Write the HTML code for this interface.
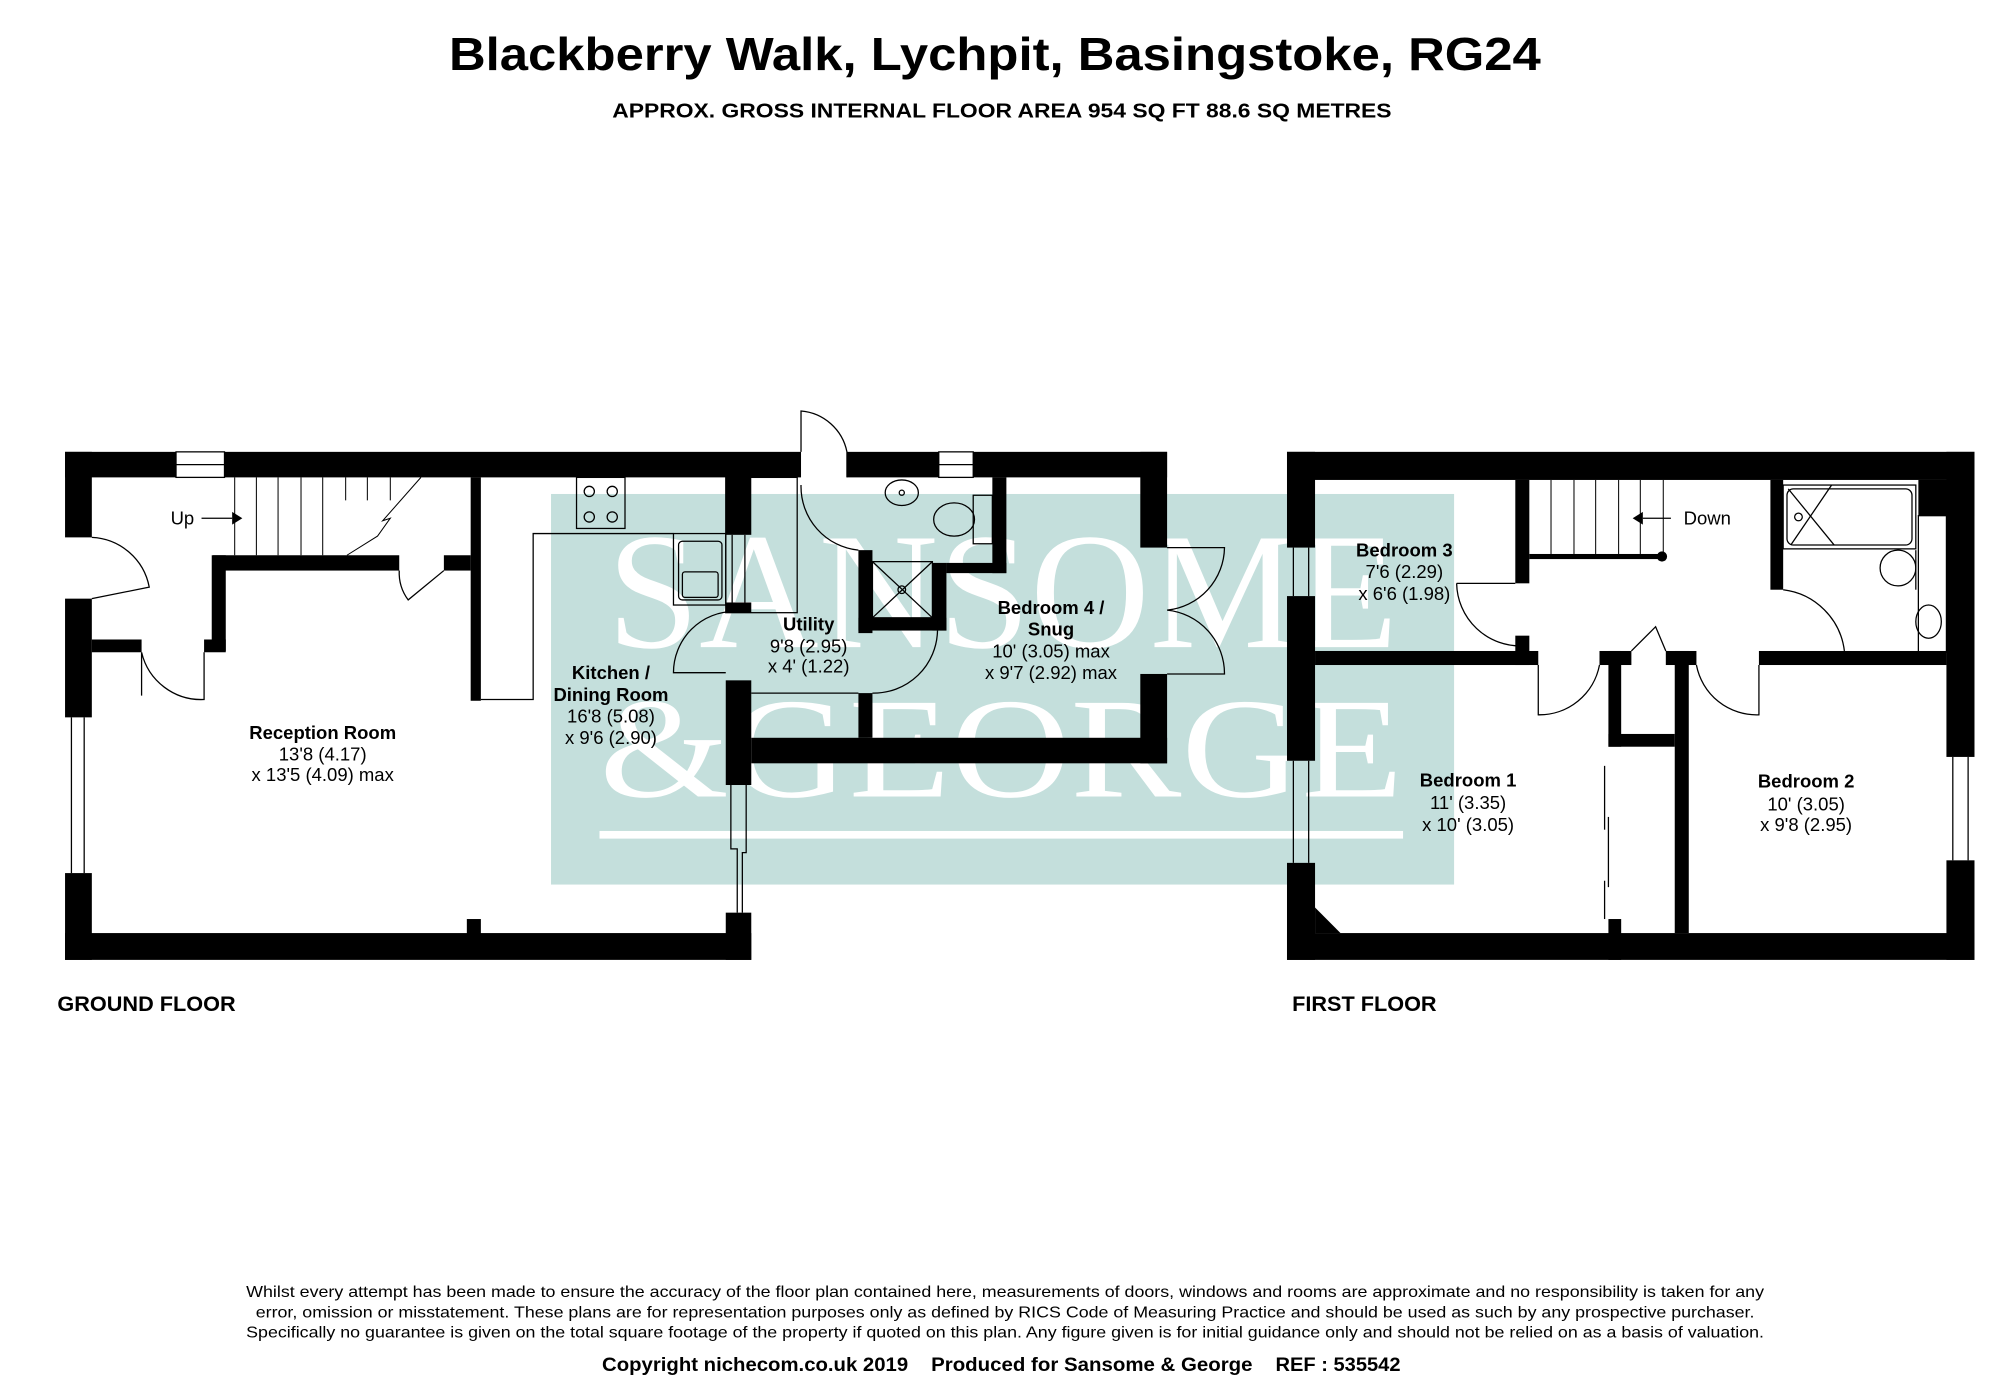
<!DOCTYPE html>
<html><head><meta charset="utf-8"><style>html,body{margin:0;padding:0;background:#fff}svg{display:block}</style></head>
<body>
<svg xmlns="http://www.w3.org/2000/svg" width="2000" height="1376" viewBox="0 0 1568 1078" preserveAspectRatio="none" font-family="'Liberation Sans', Arial, sans-serif">
<rect width="1568" height="1078" fill="#fff"/>
<text x="352" y="55" font-size="36" font-weight="bold" textLength="856" lengthAdjust="spacingAndGlyphs">Blackberry Walk, Lychpit, Basingstoke, RG24</text>
<text x="480" y="92" font-size="16" font-weight="bold" textLength="611" lengthAdjust="spacingAndGlyphs">APPROX. GROSS INTERNAL FLOOR AREA 954 SQ FT 88.6 SQ METRES</text>

<rect x="432" y="387" width="708" height="306" fill="#c4dfdc"/>
<text x="476" y="507" font-family="'Liberation Serif', serif" font-size="130" fill="#fff" textLength="620" lengthAdjust="spacingAndGlyphs">SANSOME</text>
<text x="470" y="624" font-family="'Liberation Serif', serif" font-size="112" fill="#fff" textLength="630" lengthAdjust="spacingAndGlyphs">&amp;GEORGE</text>
<rect x="470" y="651" width="630" height="6" fill="#fff"/>

<g fill="#000">
<rect x="51" y="354" width="87" height="20"/>
<rect x="176" y="354" width="452" height="20"/>
<rect x="664" y="354" width="72" height="20"/>
<rect x="763" y="354" width="152" height="20"/>
<rect x="51" y="354" width="21" height="67"/>
<rect x="51" y="469" width="21" height="93"/>
<rect x="51" y="684" width="21" height="68"/>
<rect x="51" y="731" width="538" height="21"/>
<rect x="569" y="715" width="20" height="37"/>
<rect x="569" y="374" width="20" height="45"/>
<rect x="569" y="472" width="20" height="8"/>
<rect x="569" y="533" width="20" height="82"/>
<rect x="589" y="578" width="326" height="20"/>
<rect x="894" y="354" width="21" height="75"/>
<rect x="894" y="528" width="21" height="70"/>
<rect x="369" y="374" width="8" height="175"/>
<rect x="366" y="720" width="11" height="14"/>
<rect x="167" y="435" width="146" height="12"/>
<rect x="348" y="435" width="21" height="12"/>
<rect x="166" y="435" width="11" height="75"/>
<rect x="160" y="501" width="17" height="10"/>
<rect x="72" y="501" width="39" height="10"/>
<rect x="778" y="374" width="11" height="75"/>
<rect x="742" y="441" width="47" height="8"/>
<rect x="731" y="441" width="11" height="53"/>
<rect x="673" y="484" width="69" height="10"/>
<rect x="673" y="431" width="11" height="65"/>
<rect x="673" y="543" width="11" height="35"/>

<rect x="1009" y="354" width="539" height="22"/>
<rect x="1009" y="354" width="22" height="75"/>
<rect x="1009" y="467" width="22" height="129"/>
<rect x="1009" y="676" width="22" height="76"/>
<rect x="1009" y="731" width="539" height="21"/>
<rect x="1526" y="354" width="22" height="239"/>
<rect x="1526" y="674" width="22" height="78"/>
<rect x="1504" y="376" width="44" height="28"/>
<polygon points="1031,711 1051,731 1031,731"/>
<rect x="1188" y="376" width="11" height="81"/>
<rect x="1188" y="498" width="11" height="23"/>
<rect x="1031" y="510" width="175" height="11"/>
<rect x="1254" y="510" width="25" height="11"/>
<rect x="1306" y="510" width="24" height="11"/>
<rect x="1379" y="510" width="147" height="11"/>
<rect x="1261" y="510" width="10" height="75"/>
<rect x="1261" y="720" width="10" height="32"/>
<rect x="1313" y="510" width="11" height="221"/>
<rect x="1261" y="575" width="52" height="10"/>
<rect x="1388" y="376" width="10" height="86"/>
<rect x="1199" y="434" width="104" height="4"/>
<circle cx="1303" cy="436" r="4"/>
</g>

<g fill="none" stroke="#000" stroke-width="1">
<rect x="138" y="354" width="38" height="20"/><line x1="138" y1="364" x2="176" y2="364"/>
<rect x="736" y="354" width="27" height="20"/><line x1="736" y1="364" x2="763" y2="364"/>
<line x1="56" y1="562" x2="56" y2="684"/><line x1="66" y1="562" x2="66" y2="684"/>
<line x1="574" y1="419" x2="574" y2="472"/><line x1="584" y1="419" x2="584" y2="472"/>
<polyline points="573,615 573,665 578,665 578,715"/><polyline points="585,615 585,668 582,668 582,715"/>
<line x1="1014" y1="429" x2="1014" y2="467"/><line x1="1026" y1="429" x2="1026" y2="467"/>
<line x1="1014" y1="596" x2="1014" y2="676"/><line x1="1026" y1="596" x2="1026" y2="676"/>
<line x1="1531" y1="593" x2="1531" y2="674"/><line x1="1543" y1="593" x2="1543" y2="674"/>
<g stroke-width="0.8">
<line x1="184" y1="374" x2="184" y2="435"/><line x1="201" y1="374" x2="201" y2="435"/><line x1="218" y1="374" x2="218" y2="435"/><line x1="236" y1="374" x2="236" y2="435"/><line x1="253" y1="374" x2="253" y2="435"/><line x1="271" y1="374" x2="271" y2="392"/><line x1="288" y1="374" x2="288" y2="392"/><line x1="306" y1="374" x2="306" y2="392"/>
<polyline points="330,374 300,408 306,406 296,420 272,435"/>
<line x1="1216" y1="376" x2="1216" y2="434"/><line x1="1234" y1="376" x2="1234" y2="434"/><line x1="1251" y1="376" x2="1251" y2="434"/><line x1="1269" y1="376" x2="1269" y2="434"/><line x1="1286" y1="376" x2="1286" y2="434"/><line x1="1304" y1="376" x2="1304" y2="434"/>
</g>
<path d="M72,421 A48,48 0 0 1 117,460 L72,469"/>
<path d="M111,511 L111,545 M111,511 A48,48 0 0 0 160,548 L160,511"/>
<path d="M313,447 A36,36 0 0 0 320,470 L348,447"/>
<path d="M628,354 L628,322 A40,40 0 0 1 664,354 L664,374"/>
<path d="M628,380 A50,50 0 0 0 673,431"/>
<path d="M576,479 A48,48 0 0 0 528,527 L569,527"/>
<path d="M684,543 A50,50 0 0 0 735,494"/>
<line x1="589" y1="543" x2="673" y2="543"/>
<path d="M915,429 L960,429 A50,50 0 0 1 915,478 M915,528 L960,528 A50,50 0 0 0 915,478"/>
<polyline points="377,548 418,548 418,418 528,418"/>
<rect x="452" y="374" width="38" height="40"/>
<circle cx="462" cy="385" r="4"/><circle cx="480" cy="385" r="4"/><circle cx="462" cy="405" r="4"/><circle cx="480" cy="405" r="4"/>
<rect x="528" y="418" width="41" height="56"/><rect x="532" y="424" width="34" height="46" rx="3"/><rect x="535" y="448" width="28" height="20" rx="2"/>
<rect x="569" y="374" width="56" height="106"/>
<ellipse cx="707" cy="386" rx="13" ry="10"/><circle cx="707" cy="386" r="2"/>
<rect x="763" y="388" width="15" height="38"/><ellipse cx="748" cy="407" rx="16" ry="13"/>
<rect x="684" y="440" width="47" height="44"/><line x1="684" y1="440" x2="731" y2="484"/><line x1="731" y1="440" x2="684" y2="484"/><circle cx="707" cy="462" r="3"/>
<rect x="1398" y="380" width="104" height="50"/><rect x="1401" y="383" width="98" height="44" rx="5"/>
<line x1="1402" y1="383" x2="1438" y2="427"/><line x1="1436" y1="380" x2="1404" y2="427"/><circle cx="1410" cy="405" r="3"/>
<rect x="1504" y="404" width="22" height="107"/>
<ellipse cx="1488" cy="445" rx="14" ry="14"/><line x1="1502" y1="431" x2="1502" y2="462"/>
<ellipse cx="1512" cy="487" rx="10" ry="13"/>
<path d="M1142,457 L1188,457 M1142,457 A50,50 0 0 0 1194,506"/>
<path d="M1398,462 A55,55 0 0 1 1446,510"/>
<path d="M1206,521 L1206,560 A48,48 0 0 0 1254,521"/>
<path d="M1330,521 A48,48 0 0 0 1379,560 L1379,521"/>
<path d="M1279,510 L1298,491 L1306,510"/>
<line x1="1258" y1="600" x2="1258" y2="650"/><line x1="1261" y1="640" x2="1261" y2="695"/><line x1="1258" y1="690" x2="1258" y2="720"/>
</g>
<line x1="158" y1="406" x2="182" y2="406" stroke="#000"/><polygon points="182,401 190,406 182,411"/>
<line x1="1288" y1="406" x2="1310" y2="406" stroke="#000"/><polygon points="1288,401 1280,406 1288,411"/>

<g font-size="14.5" text-anchor="middle">
<text x="143" y="411">Up</text>
<text x="1320" y="411" text-anchor="start">Down</text>
<text x="253" y="579" font-weight="bold">Reception Room</text><text x="253" y="596">13'8 (4.17)</text><text x="253" y="612">x 13'5 (4.09) max</text>
<text x="479" y="532" font-weight="bold">Kitchen /</text><text x="479" y="549" font-weight="bold">Dining Room</text><text x="479" y="566">16'8 (5.08)</text><text x="479" y="583">x 9'6 (2.90)</text>
<text x="634" y="494" font-weight="bold">Utility</text><text x="634" y="511">9'8 (2.95)</text><text x="634" y="527">x 4' (1.22)</text>
<text x="824" y="481" font-weight="bold">Bedroom 4 /</text><text x="824" y="498" font-weight="bold">Snug</text><text x="824" y="515">10' (3.05) max</text><text x="824" y="532">x 9'7 (2.92) max</text>
<text x="1101" y="436" font-weight="bold">Bedroom 3</text><text x="1101" y="453">7'6 (2.29)</text><text x="1101" y="470">x 6'6 (1.98)</text>
<text x="1151" y="616" font-weight="bold">Bedroom 1</text><text x="1151" y="634">11' (3.35)</text><text x="1151" y="651">x 10' (3.05)</text>
<text x="1416" y="617" font-weight="bold">Bedroom 2</text><text x="1416" y="635">10' (3.05)</text><text x="1416" y="651">x 9'8 (2.95)</text>
</g>
<text x="45" y="792" font-size="17" font-weight="bold">GROUND FLOOR</text>
<text x="1013" y="792" font-size="17" font-weight="bold">FIRST FLOOR</text>

<g font-size="12.5" text-anchor="middle">
<text x="788" y="1016" textLength="1190" lengthAdjust="spacingAndGlyphs">Whilst every attempt has been made to ensure the accuracy of the floor plan contained here, measurements of doors, windows and rooms are approximate and no responsibility is taken for any</text>
<text x="788" y="1032" textLength="1175" lengthAdjust="spacingAndGlyphs">error, omission or misstatement. These plans are for representation purposes only as defined by RICS Code of Measuring Practice and should be used as such by any prospective purchaser.</text>
<text x="788" y="1048" textLength="1190" lengthAdjust="spacingAndGlyphs">Specifically no guarantee is given on the total square footage of the property if quoted on this plan. Any figure given is for initial guidance only and should not be relied on as a basis of valuation.</text>
</g>
<g font-size="15" font-weight="bold">
<text x="472" y="1074" textLength="240" lengthAdjust="spacingAndGlyphs">Copyright nichecom.co.uk 2019</text>
<text x="730" y="1074" textLength="252" lengthAdjust="spacingAndGlyphs">Produced for Sansome &amp; George</text>
<text x="1000" y="1074" textLength="98" lengthAdjust="spacingAndGlyphs">REF : 535542</text>
</g>
</svg>
</body></html>
